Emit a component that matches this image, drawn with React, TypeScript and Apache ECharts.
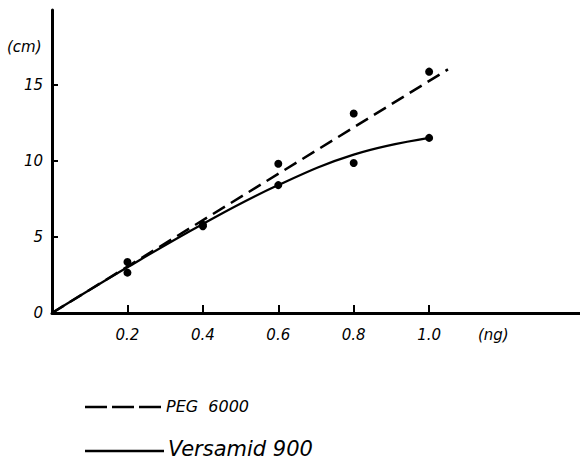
import React, { useEffect, useRef } from "react";
import * as echarts from "echarts";

const xTicks = [0.2, 0.4, 0.6, 0.8, 1.0];
const xTickLabels = ["0.2", "0.4", "0.6", "0.8", "1.0"];
const yTicks = [0, 5, 10, 15];
const pegPoints: [number, number][] = [[0.2, 3.35], [0.4, 5.8], [0.6, 9.8], [0.8, 13.1], [1.0, 15.85]];
const pegFit: [number, number][] = [[0, 0], [1.05, 16.0]];
const versPoints: [number, number][] = [[0.2, 2.65], [0.4, 5.7], [0.6, 8.4], [0.8, 9.85], [1.0, 11.5]];
const versFit: [number, number][] = [[0, 0], [0.2, 3.0], [0.4, 5.85], [0.6, 8.4], [0.8, 10.4], [1.0, 11.5]];
const unitX = "(ng)";
const unitY = "(cm)";
const legendNames = ["PEG  6000", "Versamid 900"];

const FONT = "DejaVu Sans";

export default function App() {
  const ref = useRef<HTMLDivElement>(null);
  useEffect(() => {
    const chart = echarts.init(ref.current!, null, { renderer: "svg" });
    const labelVals = [...xTicks, 1.17];
    chart.setOption({
      animation: false,
      backgroundColor: "#fff",
      grid: { left: 52, top: 10, right: 0, bottom: 151, containLabel: false },
      xAxis: {
        type: "value",
        min: 0,
        max: 1.4,
        axisLine: { lineStyle: { color: "#000", width: 3 } },
        axisTick: { inside: true, length: 8, lineStyle: { color: "#000", width: 2 }, customValues: xTicks },
        axisLabel: {
          customValues: labelVals,
          margin: 14,
          color: "#000",
          fontFamily: FONT,
          fontStyle: "italic",
          fontSize: 15,
          formatter: (v: number) => {
            const i = xTicks.findIndex((t) => Math.abs(t - v) < 1e-6);
            return i >= 0 ? xTickLabels[i] : unitX;
          },
        },
        splitLine: { show: false },
      },
      yAxis: {
        type: "value",
        min: 0,
        max: 19.9,
        axisLine: { lineStyle: { color: "#000", width: 3 } },
        axisTick: { inside: true, length: 6, lineStyle: { color: "#000", width: 2 }, customValues: [5, 10, 15] },
        axisLabel: {
          customValues: yTicks,
          margin: 9,
          color: "#000",
          fontFamily: FONT,
          fontStyle: "italic",
          fontSize: 15,
        },
        splitLine: { show: false },
      },
      graphic: [
        { type: "text", left: 7, top: 39, style: { text: unitY, font: `italic 15px "${FONT}"`, fill: "#000" } },
        { type: "line", shape: { x1: 85, y1: 407, x2: 161, y2: 407 }, style: { stroke: "#000", lineWidth: 2.5, lineDash: [22, 5] } },
        { type: "text", left: 166, top: 398, style: { text: legendNames[0], font: `italic 16px "${FONT}"`, fill: "#000" } },
        { type: "line", shape: { x1: 85, y1: 451, x2: 164, y2: 451 }, style: { stroke: "#000", lineWidth: 2.5 } },
        { type: "text", left: 168, top: 438, style: { text: legendNames[1], font: `italic 21px "${FONT}"`, fill: "#000" } },
      ],
      series: [
        {
          type: "line",
          data: pegFit,
          symbol: "none",
          lineStyle: { color: "#000", width: 2.5, type: [14, 7] },
        },
        {
          type: "line",
          data: versFit,
          smooth: 0.4,
          symbol: "none",
          lineStyle: { color: "#000", width: 2.2 },
        },
        {
          type: "scatter",
          data: pegPoints,
          symbolSize: 8,
          itemStyle: { color: "#000", opacity: 1 },
        },
        {
          type: "scatter",
          data: versPoints,
          symbolSize: 8,
          itemStyle: { color: "#000", opacity: 1 },
        },
      ],
    });
    return () => chart.dispose();
  }, []);
  return <div ref={ref} style={{ width: 580, height: 464, position: "absolute", left: 0, top: 0 }} />;
}
